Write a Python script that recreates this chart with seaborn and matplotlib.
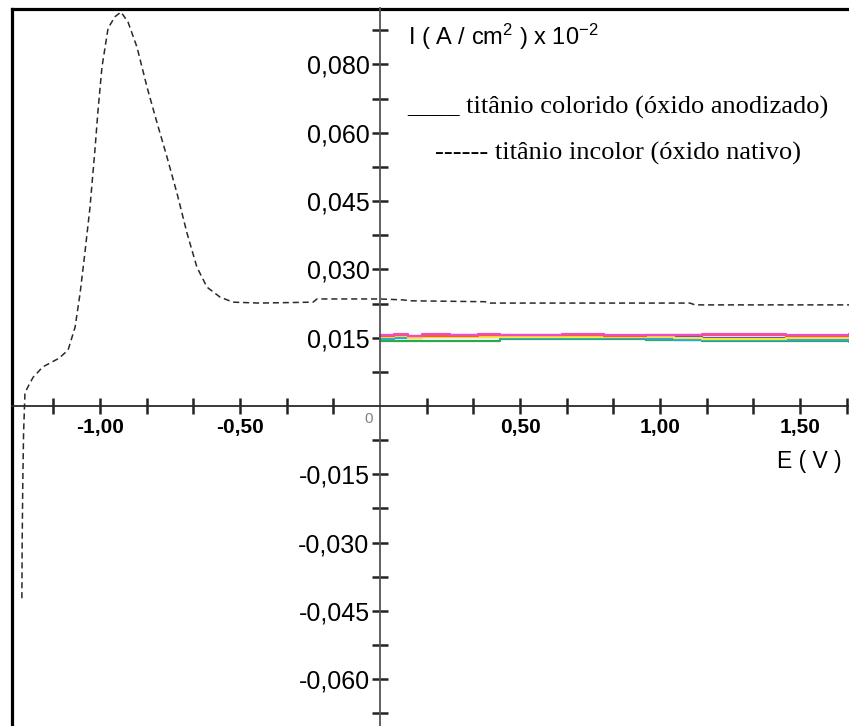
import numpy as np
import pandas as pd
import matplotlib
matplotlib.use("Agg")
import matplotlib.pyplot as plt
import seaborn as sns

# Native-oxide titanium (dashed trace): potential E (V) and current I
native_E = [-1.279, -1.278, -1.276, -1.273, -1.268, -1.254, -1.239, -1.204, -1.146,
            -1.114, -1.089, -1.071, -1.054, -1.036, -1.018, -1.007, -0.993, -0.971,
            -0.946, -0.925, -0.900, -0.868, -0.832, -0.796, -0.761, -0.725, -0.689,
            -0.654, -0.618, -0.571, -0.525, -0.430, -0.239, -0.225, 0.000, 0.082,
            0.107, 0.375, 0.393, 1.107, 1.125, 1.675]
native_I = [-0.0422, -0.0300, -0.0180, -0.0060, 0.0029, 0.0046, 0.0063, 0.0086, 0.0105,
            0.0123, 0.0173, 0.0248, 0.0336, 0.0435, 0.0563, 0.0650, 0.0744, 0.0830,
            0.0855, 0.0865, 0.0843, 0.0788, 0.0700, 0.0621, 0.0547, 0.0467, 0.0379,
            0.0305, 0.0261, 0.0239, 0.0228, 0.0226, 0.0228, 0.0235, 0.0235, 0.0233,
            0.0231, 0.0229, 0.0226, 0.0226, 0.0222, 0.0222]

# Anodized (coloured) titanium samples: step traces near 0.015
colored_E = [0.00, 0.05, 0.10, 0.15, 0.25, 0.35, 0.43, 0.55, 0.65, 0.80,
             0.95, 1.05, 1.15, 1.30, 1.45, 1.60, 1.675]
green_I   = [0.0142, 0.0142, 0.0142, 0.0142, 0.0142, 0.0142, 0.0147, 0.0147, 0.0147,
             0.0147, 0.0145, 0.0144, 0.0143, 0.0143, 0.0143, 0.0143, 0.0143]
cyan_I    = [0.0148, 0.0149, 0.0150, 0.0152, 0.0152, 0.0152, 0.0150, 0.0150, 0.0150,
             0.0149, 0.0148, 0.0146, 0.0145, 0.0145, 0.0145, 0.0145, 0.0140]
blue_I    = [0.0152, 0.0154, 0.0151, 0.0155, 0.0155, 0.0155, 0.0154, 0.0153, 0.0153,
             0.0152, 0.0152, 0.0151, 0.0150, 0.0150, 0.0150, 0.0150, 0.0150]
yellow_I  = [0.0152, 0.0153, 0.0150, 0.0151, 0.0152, 0.0152, 0.0151, 0.0151, 0.0152,
             0.0151, 0.0151, 0.0149, 0.0148, 0.0148, 0.0149, 0.0150, 0.0151]
orange_I  = [0.0154, 0.0155, 0.0153, 0.0154, 0.0154, 0.0155, 0.0155, 0.0155, 0.0155,
             0.0154, 0.0155, 0.0155, 0.0156, 0.0156, 0.0154, 0.0154, 0.0155]
magenta_I = [0.0156, 0.0157, 0.0154, 0.0157, 0.0156, 0.0157, 0.0156, 0.0156, 0.0157,
             0.0156, 0.0155, 0.0156, 0.0157, 0.0157, 0.0156, 0.0156, 0.0157]
sample_names = ["verde", "ciano", "azul", "amarelo", "laranja", "magenta"]
sample_colors = ["#2fa84a", "#28a8e0", "#4a48c0", "#f8e43c", "#f2602e", "#f04cc8"]

# Axis ticks and labels
y_major = [-0.060, -0.045, -0.030, -0.015, 0.015, 0.030, 0.045, 0.060, 0.075]
y_labels = ["-0,060", "-0,045", "-0,030", "-0,015", "0,015", "0,030", "0,045", "0,060", "0,080"]
y_minor = [-0.0675, -0.0525, -0.0375, -0.0225, -0.0075, 0.0075, 0.0225, 0.0375,
           0.0525, 0.0675, 0.0825]
x_major = [-1.00, -0.50, 0.50, 1.00, 1.50]
x_labels = ["-1,00", "-0,50", "0,50", "1,00", "1,50"]
x_minor = [-1.1667, -0.8333, -0.6667, -0.3333, -0.1667, 0.1667, 0.3333, 0.6667,
           0.8333, 1.1667, 1.3333, 1.6667]

sns.set_style("white")
plt.rcParams["font.family"] = ["Liberation Sans", "DejaVu Sans"]
plt.rcParams["mathtext.default"] = "regular"
plt.rcParams["text.color"] = "black"
plt.rcParams["xtick.labelcolor"] = "black"
plt.rcParams["ytick.labelcolor"] = "black"

W, H = 849, 726
fig = plt.figure(figsize=(W / 100, H / 100), dpi=100)
rect = [12 / W, 0, (W - 12) / W, (H - 8.5) / H]

# Outer frame (left and top borders only)
frame = fig.add_axes(rect, zorder=0)
frame.set_xticks([]); frame.set_yticks([])
for side in ["right", "bottom"]:
    frame.spines[side].set_visible(False)
for side in ["left", "top"]:
    frame.spines[side].set_linewidth(2.3)
    frame.spines[side].set_color("black")

ax = fig.add_axes(rect, zorder=1)
ax.patch.set_alpha(0)
ax.set_xlim(-1.3143, 1.675)
ax.set_ylim(-0.07025, 0.08727)

# Coloured samples
rows = []
for name, vals in zip(sample_names, [green_I, cyan_I, blue_I, yellow_I, orange_I, magenta_I]):
    for e, i in zip(colored_E, vals):
        rows.append({"E": e, "I": i, "amostra": name})
df_col = pd.DataFrame(rows)
sns.lineplot(data=df_col, x="E", y="I", hue="amostra", hue_order=sample_names,
             palette=sample_colors, drawstyle="steps-post", linewidth=1.6,
             legend=False, sort=False, ax=ax, estimator=None)

# Native oxide dashed trace
df_nat = pd.DataFrame({"E": native_E, "I": native_I})
sns.lineplot(data=df_nat, x="E", y="I", sort=False, estimator=None, color="#2a2a2a",
             linewidth=1.1, linestyle=(0, (4, 2.5)), ax=ax)

# Cross axes through the origin
for side in ["right", "top"]:
    ax.spines[side].set_visible(False)
ax.spines["left"].set_position(("data", 0))
ax.spines["bottom"].set_position(("data", 0))
ax.spines["left"].set_color("#555555")
ax.spines["left"].set_linewidth(1.3)
ax.spines["bottom"].set_color("#2a2a2a")
ax.spines["bottom"].set_linewidth(1.3)

ax.set_xticks(x_major)
ax.set_xticklabels(x_labels, fontsize=15, fontweight="bold")
ax.set_xticks(x_minor, minor=True)
ax.set_yticks(y_major)
ax.set_yticklabels(y_labels, fontsize=18)
ax.set_yticks(y_minor, minor=True)
ax.tick_params(which="both", bottom=True, left=True, direction="inout",
               length=11, width=1.8, color="#222222")
ax.tick_params(axis="x", which="major", pad=3)
ax.tick_params(axis="y", which="major", pad=2)
ax.set_xlabel(""); ax.set_ylabel("")

ax.text(-0.039, -0.0029, "0", fontsize=11, color="#808080", ha="center", va="center")
ax.text(0.10, 0.0793, r"I ( A / cm$^{2}$ ) x 10$^{-2}$", fontsize=17,
        ha="left", va="baseline")
ax.text(1.418, -0.0136, "E ( V )", fontsize=16.5, ha="left", va="baseline")

serif = ["Liberation Serif", "DejaVu Serif"]
ax.text(0.0964, 0.0641, "____ titânio colorido (óxido anodizado)", family=serif,
        fontsize=19, ha="left", va="baseline")
ax.text(0.196, 0.0542, "------ titânio incolor (óxido nativo)", family=serif,
        fontsize=19, ha="left", va="baseline")

fig.savefig("out.png", dpi=100)
